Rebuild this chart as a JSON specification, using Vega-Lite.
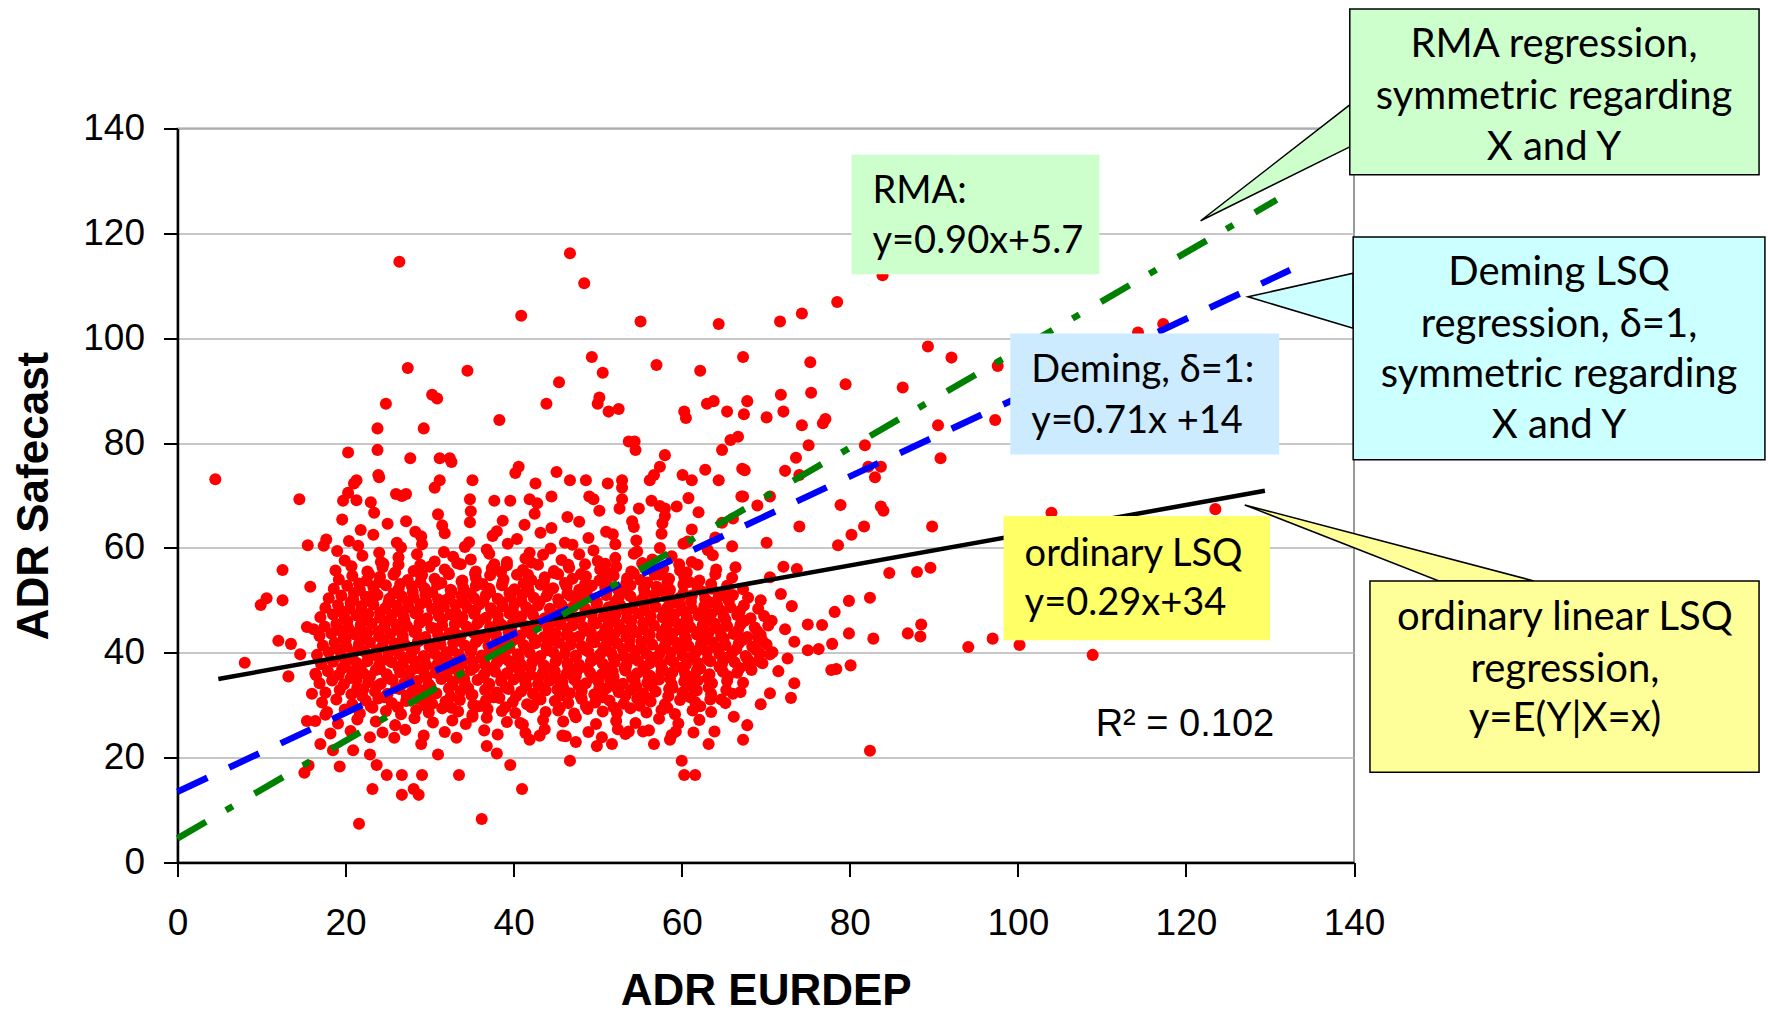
{
"$schema":"https://vega.github.io/schema/vega-lite/v6.json",
"width":1176.5,"height":734,
"autosize":{"type":"none"},
"padding":{"left":177.5,"top":128.5,"right":414,"bottom":150.5},
"background":"white",
"config":{
"view":{"stroke":"#9a9a9a","strokeWidth":2},
"axis":{"labelFont":"Liberation Sans","labelFontSize":37,"labelColor":"black","titleFont":"Liberation Sans","titleFontSize":44,"titleFontWeight":"bold","titleColor":"black","domainColor":"black","domainWidth":2.5,"tickColor":"black","tickWidth":2,"tickSize":14,"gridColor":"#b5b5b5","gridWidth":1.3,"labelFlush":false}
},
"encoding":{
"x":{"field":"x","type":"quantitative","scale":{"domain":[0,140],"nice":false,"zero":false},"axis":{"values":[0,20,40,60,80,100,120,140],"grid":false,"title":"ADR EURDEP","labelPadding":29,"titlePadding":28}},
"y":{"field":"y","type":"quantitative","scale":{"domain":[0,140],"nice":false,"zero":false},"axis":{"values":[0,20,40,60,80,100,120,140],"grid":true,"title":"ADR Safecast","labelPadding":19,"titlePadding":26}}
},
"layer":[
{"data":{"values":[
{"x":18.2,"y":24.6},{"x":20.6,"y":25.1},{"x":22.9,"y":23.9},{"x":24.4,"y":24.8},{"x":27.1,"y":25.3},{"x":29.3,"y":24.2},{"x":31.8,"y":24.9},{"x":33.2,"y":23.8},{"x":36.5,"y":25.2},{"x":38.1,"y":24.4},{"x":41.4,"y":24.7},{"x":43.7,"y":25.4},{"x":46.2,"y":24.1},{"x":48.9,"y":24.9},{"x":50.5,"y":23.9},{"x":53.3,"y":24.5},{"x":56.1,"y":25.2},{"x":58.8,"y":24.3},{"x":61.4,"y":24.8},
{"x":19.1,"y":26.5},{"x":21.4,"y":27.3},{"x":23.6,"y":26.9},{"x":25.9,"y":26.2},{"x":28.2,"y":27.5},{"x":30.4,"y":26.7},{"x":32.7,"y":27.1},{"x":34.3,"y":26.4},{"x":36.8,"y":27.6},{"x":39.2,"y":26.8},{"x":41.1,"y":26.3},{"x":43.5,"y":27.2},{"x":45.9,"y":26.9},{"x":47.4,"y":27.7},{"x":49.8,"y":26.4},{"x":52.2,"y":27.0},{"x":54.5,"y":26.6},{"x":57.3,"y":27.4},{"x":59.6,"y":26.5},{"x":62.1,"y":27.2},
{"x":17.8,"y":28.7},{"x":19.9,"y":29.2},{"x":21.7,"y":28.4},{"x":23.2,"y":29.5},{"x":24.8,"y":28.9},{"x":26.6,"y":28.3},{"x":28.4,"y":29.1},{"x":29.9,"y":28.6},{"x":31.5,"y":29.4},{"x":33.4,"y":28.8},{"x":35.1,"y":28.2},{"x":36.9,"y":29.3},{"x":38.6,"y":28.9},{"x":40.2,"y":28.5},{"x":42.1,"y":29.6},{"x":43.8,"y":28.7},{"x":45.3,"y":29.0},{"x":47.2,"y":28.4},{"x":48.8,"y":29.3},{"x":50.6,"y":28.8},{"x":52.3,"y":28.5},{"x":53.9,"y":29.4},{"x":55.8,"y":28.6},{"x":57.6,"y":29.1},{"x":59.2,"y":28.3},{"x":61.3,"y":29.0},{"x":63.5,"y":28.7},
{"x":17.2,"y":30.5},{"x":18.9,"y":31.1},{"x":20.8,"y":30.2},{"x":22.4,"y":30.9},{"x":23.9,"y":31.3},{"x":25.5,"y":30.4},{"x":27.2,"y":30.8},{"x":28.8,"y":31.2},{"x":30.3,"y":30.3},{"x":31.9,"y":30.7},{"x":33.6,"y":31.0},{"x":35.2,"y":30.1},{"x":36.7,"y":30.9},{"x":38.3,"y":31.4},{"x":39.9,"y":30.6},{"x":41.6,"y":30.2},{"x":43.2,"y":31.1},{"x":44.9,"y":30.8},{"x":46.5,"y":30.4},{"x":48.1,"y":31.2},{"x":49.7,"y":30.5},{"x":51.4,"y":30.9},{"x":53.1,"y":30.3},{"x":54.7,"y":31.3},{"x":56.3,"y":30.7},{"x":58.0,"y":30.2},{"x":59.8,"y":31.0},{"x":61.6,"y":30.6},{"x":63.4,"y":31.1},{"x":65.2,"y":30.4},
{"x":17.6,"y":32.4},{"x":19.3,"y":32.9},{"x":20.7,"y":32.1},{"x":22.1,"y":33.0},{"x":23.5,"y":32.6},{"x":25.0,"y":32.2},{"x":26.4,"y":33.1},{"x":27.9,"y":32.5},{"x":29.2,"y":32.8},{"x":30.8,"y":32.3},{"x":32.3,"y":33.2},{"x":33.7,"y":32.7},{"x":35.1,"y":32.0},{"x":36.6,"y":32.9},{"x":38.0,"y":32.4},{"x":39.4,"y":33.1},{"x":40.9,"y":32.6},{"x":42.3,"y":32.2},{"x":43.8,"y":32.8},{"x":45.2,"y":33.0},{"x":46.7,"y":32.3},{"x":48.1,"y":32.7},{"x":49.6,"y":32.1},{"x":51.0,"y":33.2},{"x":52.5,"y":32.5},{"x":53.9,"y":32.9},{"x":55.4,"y":32.3},{"x":56.9,"y":32.6},{"x":58.5,"y":33.1},{"x":60.1,"y":32.4},{"x":61.8,"y":32.8},{"x":63.5,"y":32.2},{"x":65.3,"y":32.9},{"x":67.0,"y":32.5},
{"x":16.9,"y":34.2},{"x":18.4,"y":34.7},{"x":19.8,"y":34.0},{"x":21.3,"y":34.9},{"x":22.7,"y":34.4},{"x":24.2,"y":34.1},{"x":25.6,"y":34.8},{"x":27.0,"y":34.3},{"x":28.5,"y":34.6},{"x":29.9,"y":34.0},{"x":31.4,"y":35.0},{"x":32.8,"y":34.5},{"x":34.2,"y":34.2},{"x":35.7,"y":34.8},{"x":37.1,"y":34.1},{"x":38.5,"y":34.6},{"x":40.0,"y":34.9},{"x":41.4,"y":34.3},{"x":42.9,"y":34.0},{"x":44.3,"y":34.7},{"x":45.8,"y":34.4},{"x":47.2,"y":34.9},{"x":48.6,"y":34.2},{"x":50.1,"y":34.5},{"x":51.5,"y":34.8},{"x":53.0,"y":34.1},{"x":54.4,"y":34.6},{"x":55.9,"y":34.3},{"x":57.3,"y":34.9},{"x":58.8,"y":34.0},{"x":60.3,"y":34.5},{"x":61.9,"y":34.7},{"x":63.6,"y":34.2},{"x":65.4,"y":34.6},{"x":67.3,"y":34.3},
{"x":16.4,"y":36.0},{"x":17.9,"y":36.5},{"x":19.2,"y":35.8},{"x":20.8,"y":36.4},{"x":22.1,"y":36.1},{"x":23.6,"y":36.7},{"x":24.9,"y":35.9},{"x":26.5,"y":36.3},{"x":27.8,"y":36.6},{"x":29.4,"y":35.8},{"x":30.7,"y":36.2},{"x":32.1,"y":36.5},{"x":33.6,"y":36.0},{"x":34.9,"y":36.7},{"x":36.5,"y":35.9},{"x":37.8,"y":36.4},{"x":39.2,"y":36.1},{"x":40.7,"y":36.6},{"x":42.0,"y":35.8},{"x":43.5,"y":36.3},{"x":44.9,"y":36.5},{"x":46.3,"y":36.0},{"x":47.6,"y":36.7},{"x":49.1,"y":36.2},{"x":50.5,"y":35.9},{"x":51.8,"y":36.4},{"x":53.3,"y":36.6},{"x":54.7,"y":36.1},{"x":56.0,"y":35.8},{"x":57.6,"y":36.5},{"x":58.9,"y":36.3},{"x":60.4,"y":36.0},{"x":61.8,"y":36.6},{"x":63.3,"y":35.9},{"x":64.9,"y":36.4},{"x":66.6,"y":36.2},{"x":68.3,"y":36.7},
{"x":17.1,"y":37.8},{"x":18.5,"y":38.3},{"x":19.9,"y":37.6},{"x":21.3,"y":38.1},{"x":22.6,"y":38.4},{"x":24.0,"y":37.7},{"x":25.5,"y":38.2},{"x":26.8,"y":37.9},{"x":28.2,"y":38.5},{"x":29.6,"y":37.6},{"x":31.0,"y":38.0},{"x":32.4,"y":38.3},{"x":33.8,"y":37.8},{"x":35.1,"y":38.4},{"x":36.6,"y":37.7},{"x":38.0,"y":38.1},{"x":39.4,"y":38.5},{"x":40.8,"y":37.9},{"x":42.2,"y":38.2},{"x":43.6,"y":37.6},{"x":45.0,"y":38.3},{"x":46.4,"y":38.0},{"x":47.8,"y":37.7},{"x":49.2,"y":38.4},{"x":50.6,"y":37.9},{"x":52.0,"y":38.2},{"x":53.4,"y":37.6},{"x":54.8,"y":38.5},{"x":56.2,"y":38.0},{"x":57.5,"y":37.8},{"x":59.0,"y":38.3},{"x":60.5,"y":37.7},{"x":61.9,"y":38.1},{"x":63.4,"y":38.4},{"x":64.8,"y":37.9},{"x":66.3,"y":38.2},{"x":67.9,"y":37.6},{"x":69.6,"y":38.0},
{"x":16.6,"y":39.6},{"x":18.0,"y":40.1},{"x":19.5,"y":39.4},{"x":20.9,"y":39.9},{"x":22.3,"y":40.2},{"x":23.7,"y":39.5},{"x":25.1,"y":40.0},{"x":26.4,"y":39.7},{"x":27.9,"y":40.3},{"x":29.3,"y":39.4},{"x":30.6,"y":39.8},{"x":32.0,"y":40.1},{"x":33.5,"y":39.6},{"x":34.9,"y":40.2},{"x":36.2,"y":39.5},{"x":37.7,"y":39.9},{"x":39.0,"y":40.3},{"x":40.5,"y":39.7},{"x":41.9,"y":40.0},{"x":43.2,"y":39.4},{"x":44.7,"y":40.1},{"x":46.1,"y":39.8},{"x":47.4,"y":39.5},{"x":48.9,"y":40.2},{"x":50.3,"y":39.7},{"x":51.6,"y":40.0},{"x":53.1,"y":39.4},{"x":54.5,"y":40.3},{"x":55.8,"y":39.8},{"x":57.3,"y":39.6},{"x":58.7,"y":40.1},{"x":60.1,"y":39.5},{"x":61.6,"y":39.9},{"x":63.0,"y":40.2},{"x":64.5,"y":39.7},{"x":66.0,"y":40.0},{"x":67.6,"y":39.4},{"x":69.3,"y":39.8},{"x":70.8,"y":40.1},
{"x":17.3,"y":41.4},{"x":18.7,"y":41.9},{"x":20.1,"y":41.2},{"x":21.6,"y":41.7},{"x":22.9,"y":42.0},{"x":24.4,"y":41.3},{"x":25.8,"y":41.8},{"x":27.1,"y":41.5},{"x":28.6,"y":42.1},{"x":30.0,"y":41.2},{"x":31.3,"y":41.6},{"x":32.8,"y":41.9},{"x":34.2,"y":41.4},{"x":35.5,"y":42.0},{"x":37.0,"y":41.3},{"x":38.4,"y":41.7},{"x":39.7,"y":42.1},{"x":41.2,"y":41.5},{"x":42.6,"y":41.8},{"x":43.9,"y":41.2},{"x":45.4,"y":41.9},{"x":46.8,"y":41.6},{"x":48.1,"y":41.3},{"x":49.6,"y":42.0},{"x":51.0,"y":41.5},{"x":52.3,"y":41.8},{"x":53.8,"y":41.2},{"x":55.2,"y":42.1},{"x":56.5,"y":41.6},{"x":58.0,"y":41.4},{"x":59.4,"y":41.9},{"x":60.8,"y":41.3},{"x":62.3,"y":41.7},{"x":63.7,"y":42.0},{"x":65.2,"y":41.5},{"x":66.8,"y":41.8},{"x":68.4,"y":41.2},{"x":70.1,"y":41.6},
{"x":16.9,"y":43.2},{"x":18.3,"y":43.7},{"x":19.8,"y":43.0},{"x":21.1,"y":43.5},{"x":22.6,"y":43.8},{"x":24.0,"y":43.1},{"x":25.3,"y":43.6},{"x":26.8,"y":43.3},{"x":28.2,"y":43.9},{"x":29.5,"y":43.0},{"x":31.0,"y":43.4},{"x":32.4,"y":43.7},{"x":33.7,"y":43.2},{"x":35.2,"y":43.8},{"x":36.6,"y":43.1},{"x":37.9,"y":43.5},{"x":39.4,"y":43.9},{"x":40.8,"y":43.3},{"x":42.1,"y":43.6},{"x":43.6,"y":43.0},{"x":45.0,"y":43.7},{"x":46.3,"y":43.4},{"x":47.8,"y":43.1},{"x":49.2,"y":43.8},{"x":50.5,"y":43.3},{"x":52.0,"y":43.6},{"x":53.4,"y":43.0},{"x":54.7,"y":43.9},{"x":56.2,"y":43.4},{"x":57.6,"y":43.2},{"x":58.9,"y":43.7},{"x":60.4,"y":43.1},{"x":61.8,"y":43.5},{"x":63.2,"y":43.8},{"x":64.7,"y":43.3},{"x":66.2,"y":43.6},{"x":67.8,"y":43.0},{"x":69.4,"y":43.4},
{"x":17.5,"y":45.0},{"x":18.9,"y":45.5},{"x":20.3,"y":44.8},{"x":21.8,"y":45.3},{"x":23.1,"y":45.6},{"x":24.6,"y":44.9},{"x":26.0,"y":45.4},{"x":27.3,"y":45.1},{"x":28.8,"y":45.7},{"x":30.2,"y":44.8},{"x":31.5,"y":45.2},{"x":33.0,"y":45.5},{"x":34.4,"y":45.0},{"x":35.7,"y":45.6},{"x":37.2,"y":44.9},{"x":38.6,"y":45.3},{"x":39.9,"y":45.7},{"x":41.4,"y":45.1},{"x":42.8,"y":45.4},{"x":44.1,"y":44.8},{"x":45.6,"y":45.5},{"x":47.0,"y":45.2},{"x":48.3,"y":44.9},{"x":49.8,"y":45.6},{"x":51.2,"y":45.1},{"x":52.5,"y":45.4},{"x":54.0,"y":44.8},{"x":55.4,"y":45.7},{"x":56.7,"y":45.2},{"x":58.2,"y":45.0},{"x":59.6,"y":45.5},{"x":61.0,"y":44.9},{"x":62.5,"y":45.3},{"x":63.9,"y":45.6},{"x":65.4,"y":45.1},{"x":67.0,"y":45.4},{"x":68.7,"y":44.8},{"x":70.3,"y":45.2},
{"x":17.0,"y":46.8},{"x":18.5,"y":47.3},{"x":19.9,"y":46.6},{"x":21.3,"y":47.1},{"x":22.7,"y":47.4},{"x":24.1,"y":46.7},{"x":25.5,"y":47.2},{"x":26.9,"y":46.9},{"x":28.3,"y":47.5},{"x":29.7,"y":46.6},{"x":31.1,"y":47.0},{"x":32.5,"y":47.3},{"x":33.9,"y":46.8},{"x":35.3,"y":47.4},{"x":36.7,"y":46.7},{"x":38.1,"y":47.1},{"x":39.5,"y":47.5},{"x":40.9,"y":46.9},{"x":42.3,"y":47.2},{"x":43.7,"y":46.6},{"x":45.1,"y":47.3},{"x":46.5,"y":47.0},{"x":47.9,"y":46.7},{"x":49.3,"y":47.4},{"x":50.7,"y":46.9},{"x":52.1,"y":47.2},{"x":53.5,"y":46.6},{"x":54.9,"y":47.5},{"x":56.3,"y":47.0},{"x":57.7,"y":46.8},{"x":59.1,"y":47.3},{"x":60.6,"y":46.7},{"x":62.0,"y":47.1},{"x":63.5,"y":47.4},{"x":65.0,"y":46.9},{"x":66.6,"y":47.2},{"x":68.2,"y":46.6},{"x":69.8,"y":47.0},
{"x":17.6,"y":48.6},{"x":19.1,"y":49.1},{"x":20.5,"y":48.4},{"x":21.9,"y":48.9},{"x":23.3,"y":49.2},{"x":24.7,"y":48.5},{"x":26.1,"y":49.0},{"x":27.5,"y":48.7},{"x":28.9,"y":49.3},{"x":30.3,"y":48.4},{"x":31.7,"y":48.8},{"x":33.1,"y":49.1},{"x":34.5,"y":48.6},{"x":35.9,"y":49.2},{"x":37.3,"y":48.5},{"x":38.7,"y":48.9},{"x":40.1,"y":49.3},{"x":41.5,"y":48.7},{"x":42.9,"y":49.0},{"x":44.3,"y":48.4},{"x":45.7,"y":49.1},{"x":47.1,"y":48.8},{"x":48.5,"y":48.5},{"x":49.9,"y":49.2},{"x":51.3,"y":48.7},{"x":52.7,"y":49.0},{"x":54.1,"y":48.4},{"x":55.5,"y":49.3},{"x":56.9,"y":48.8},{"x":58.3,"y":48.6},{"x":59.8,"y":49.1},{"x":61.2,"y":48.5},{"x":62.7,"y":48.9},{"x":64.2,"y":49.2},{"x":65.8,"y":48.7},{"x":67.4,"y":49.0},{"x":69.1,"y":48.4},
{"x":18.0,"y":50.4},{"x":19.5,"y":50.9},{"x":20.9,"y":50.2},{"x":22.4,"y":50.7},{"x":23.8,"y":51.0},{"x":25.2,"y":50.3},{"x":26.7,"y":50.8},{"x":28.1,"y":50.5},{"x":29.5,"y":51.1},{"x":31.0,"y":50.2},{"x":32.4,"y":50.6},{"x":33.8,"y":50.9},{"x":35.3,"y":50.4},{"x":36.7,"y":51.0},{"x":38.1,"y":50.3},{"x":39.6,"y":50.7},{"x":41.0,"y":51.1},{"x":42.4,"y":50.5},{"x":43.9,"y":50.8},{"x":45.3,"y":50.2},{"x":46.7,"y":50.9},{"x":48.2,"y":50.6},{"x":49.6,"y":50.3},{"x":51.0,"y":51.0},{"x":52.5,"y":50.5},{"x":53.9,"y":50.8},{"x":55.3,"y":50.2},{"x":56.8,"y":51.1},{"x":58.2,"y":50.6},{"x":59.7,"y":50.4},{"x":61.2,"y":50.9},{"x":62.8,"y":50.3},{"x":64.4,"y":50.7},{"x":66.1,"y":51.0},{"x":67.9,"y":50.5},
{"x":18.6,"y":52.2},{"x":20.2,"y":52.8},{"x":21.7,"y":52.0},{"x":23.3,"y":52.6},{"x":24.8,"y":52.9},{"x":26.3,"y":52.1},{"x":27.9,"y":52.7},{"x":29.4,"y":52.3},{"x":30.9,"y":53.0},{"x":32.5,"y":52.0},{"x":34.0,"y":52.4},{"x":35.5,"y":52.8},{"x":37.1,"y":52.2},{"x":38.6,"y":52.9},{"x":40.1,"y":52.1},{"x":41.7,"y":52.5},{"x":43.2,"y":53.0},{"x":44.7,"y":52.3},{"x":46.3,"y":52.7},{"x":47.8,"y":52.0},{"x":49.3,"y":52.8},{"x":50.9,"y":52.4},{"x":52.4,"y":52.1},{"x":53.9,"y":52.9},{"x":55.5,"y":52.3},{"x":57.0,"y":52.6},{"x":58.6,"y":52.0},{"x":60.2,"y":53.0},{"x":61.9,"y":52.4},{"x":63.6,"y":52.2},{"x":65.4,"y":52.8},{"x":67.3,"y":52.1},
{"x":19.2,"y":54.0},{"x":20.8,"y":54.7},{"x":22.5,"y":53.8},{"x":24.1,"y":54.5},{"x":25.7,"y":54.9},{"x":27.4,"y":53.9},{"x":29.0,"y":54.6},{"x":30.6,"y":54.1},{"x":32.3,"y":55.0},{"x":33.9,"y":53.8},{"x":35.5,"y":54.3},{"x":37.2,"y":54.8},{"x":38.8,"y":54.0},{"x":40.4,"y":54.9},{"x":42.1,"y":53.9},{"x":43.7,"y":54.4},{"x":45.3,"y":55.0},{"x":47.0,"y":54.1},{"x":48.6,"y":54.6},{"x":50.2,"y":53.8},{"x":51.9,"y":54.7},{"x":53.5,"y":54.2},{"x":55.1,"y":53.9},{"x":56.8,"y":54.9},{"x":58.5,"y":54.1},{"x":60.3,"y":54.5},{"x":62.1,"y":53.8},{"x":64.0,"y":55.0},{"x":66.0,"y":54.3},
{"x":18.8,"y":55.7},{"x":20.7,"y":56.5},{"x":22.6,"y":55.5},{"x":24.4,"y":56.3},{"x":26.3,"y":56.8},{"x":28.1,"y":55.6},{"x":30.0,"y":56.4},{"x":31.8,"y":55.9},{"x":33.7,"y":56.9},{"x":35.5,"y":55.5},{"x":37.4,"y":56.1},{"x":39.2,"y":56.7},{"x":41.1,"y":55.8},{"x":42.9,"y":56.8},{"x":44.8,"y":55.6},{"x":46.6,"y":56.2},{"x":48.5,"y":56.9},{"x":50.3,"y":55.9},{"x":52.2,"y":56.4},{"x":54.0,"y":55.5},{"x":55.9,"y":56.6},{"x":57.8,"y":56.0},{"x":59.8,"y":55.7},{"x":61.9,"y":56.8},{"x":64.1,"y":55.9},{"x":66.4,"y":56.3},
{"x":19.9,"y":57.6},{"x":22.0,"y":58.5},{"x":24.2,"y":57.3},{"x":26.3,"y":58.2},{"x":28.5,"y":58.8},{"x":30.6,"y":57.4},{"x":32.8,"y":58.3},{"x":34.9,"y":57.8},{"x":37.1,"y":58.9},{"x":39.2,"y":57.3},{"x":41.4,"y":58.0},{"x":43.5,"y":58.7},{"x":45.7,"y":57.7},{"x":47.8,"y":58.8},{"x":50.0,"y":57.5},{"x":52.1,"y":58.1},{"x":54.3,"y":58.9},{"x":56.5,"y":57.8},{"x":58.8,"y":58.4},{"x":61.2,"y":57.3},{"x":63.7,"y":58.6},
{"x":19.0,"y":59.4},{"x":21.5,"y":60.4},{"x":24.0,"y":59.1},{"x":26.6,"y":60.1},{"x":29.1,"y":60.7},{"x":31.7,"y":59.2},{"x":34.2,"y":60.2},{"x":36.8,"y":59.7},{"x":39.3,"y":60.8},{"x":41.9,"y":59.1},{"x":44.4,"y":59.9},{"x":47.0,"y":60.6},{"x":49.5,"y":59.5},{"x":52.1,"y":60.7},{"x":54.7,"y":59.3},{"x":57.4,"y":60.0},{"x":60.2,"y":60.8},{"x":63.1,"y":59.6},{"x":66.0,"y":60.3},
{"x":20.4,"y":61.3},{"x":23.3,"y":62.5},{"x":26.1,"y":61.0},{"x":29.0,"y":62.2},{"x":31.8,"y":62.8},{"x":34.7,"y":61.1},{"x":37.5,"y":62.3},{"x":40.4,"y":61.7},{"x":43.2,"y":62.9},{"x":46.1,"y":61.0},{"x":48.9,"y":61.9},{"x":51.8,"y":62.6},{"x":54.6,"y":61.4},{"x":57.6,"y":62.7},{"x":60.7,"y":61.2},{"x":64.0,"y":62.0},
{"x":21.8,"y":63.4},{"x":25.0,"y":64.6},{"x":28.3,"y":63.1},{"x":31.5,"y":64.3},{"x":34.8,"y":64.9},{"x":38.0,"y":63.2},{"x":41.3,"y":64.4},{"x":44.5,"y":63.8},{"x":47.8,"y":65.0},{"x":51.0,"y":63.1},{"x":54.3,"y":64.0},{"x":57.7,"y":64.7},{"x":61.2,"y":63.5},{"x":64.8,"y":64.8},
{"x":19.6,"y":65.4},{"x":23.4,"y":66.7},{"x":27.2,"y":65.1},{"x":31.0,"y":66.4},{"x":34.9,"y":67.0},{"x":38.7,"y":65.2},{"x":42.5,"y":66.5},{"x":46.4,"y":65.9},{"x":50.2,"y":67.1},{"x":54.1,"y":65.1},{"x":58.0,"y":66.1},{"x":62.0,"y":66.8},{"x":66.1,"y":65.6},
{"x":23.0,"y":29.8},{"x":26.2,"y":29.6},{"x":29.5,"y":29.9},{"x":32.6,"y":29.5},{"x":35.9,"y":29.8},{"x":39.0,"y":29.6},{"x":42.3,"y":29.9},{"x":45.5,"y":29.5},{"x":48.6,"y":29.8},{"x":51.9,"y":29.6},{"x":55.0,"y":29.9},{"x":58.3,"y":29.5},
{"x":22.0,"y":31.7},{"x":24.6,"y":31.5},{"x":27.3,"y":31.8},{"x":29.8,"y":31.4},{"x":32.5,"y":31.6},{"x":35.0,"y":31.9},{"x":37.6,"y":31.5},{"x":40.3,"y":31.7},{"x":42.8,"y":31.4},{"x":45.5,"y":31.8},{"x":48.0,"y":31.6},{"x":50.6,"y":31.5},{"x":53.3,"y":31.8},{"x":55.8,"y":31.4},{"x":58.4,"y":31.7},{"x":61.0,"y":31.5},
{"x":21.4,"y":33.4},{"x":23.8,"y":33.7},{"x":26.0,"y":33.3},{"x":28.3,"y":33.6},{"x":30.1,"y":33.5},{"x":32.7,"y":33.8},{"x":34.6,"y":33.3},{"x":37.0,"y":33.6},{"x":39.1,"y":33.4},{"x":41.5,"y":33.7},{"x":43.3,"y":33.5},{"x":45.9,"y":33.3},{"x":47.7,"y":33.8},{"x":50.2,"y":33.4},{"x":52.0,"y":33.6},{"x":54.6,"y":33.5},{"x":56.4,"y":33.7},{"x":58.9,"y":33.3},{"x":61.1,"y":33.6},{"x":63.2,"y":33.4},
{"x":20.6,"y":35.2},{"x":22.9,"y":35.5},{"x":25.2,"y":35.1},{"x":27.5,"y":35.4},{"x":29.6,"y":35.3},{"x":32.0,"y":35.6},{"x":34.1,"y":35.1},{"x":36.3,"y":35.4},{"x":38.6,"y":35.2},{"x":40.8,"y":35.5},{"x":43.0,"y":35.3},{"x":45.2,"y":35.1},{"x":47.4,"y":35.6},{"x":49.7,"y":35.2},{"x":51.9,"y":35.4},{"x":54.1,"y":35.3},{"x":56.3,"y":35.5},{"x":58.6,"y":35.1},{"x":60.9,"y":35.4},{"x":63.1,"y":35.2},{"x":65.5,"y":35.5},
{"x":19.6,"y":37.0},{"x":21.8,"y":37.3},{"x":24.1,"y":36.9},{"x":26.3,"y":37.2},{"x":28.6,"y":37.1},{"x":30.8,"y":37.4},{"x":33.1,"y":36.9},{"x":35.3,"y":37.2},{"x":37.5,"y":37.0},{"x":39.8,"y":37.3},{"x":42.0,"y":37.1},{"x":44.3,"y":36.9},{"x":46.5,"y":37.4},{"x":48.8,"y":37.0},{"x":51.0,"y":37.2},{"x":53.2,"y":37.1},{"x":55.5,"y":37.3},{"x":57.7,"y":36.9},{"x":60.0,"y":37.2},{"x":62.2,"y":37.0},{"x":64.5,"y":37.3},{"x":66.9,"y":37.1},
{"x":20.4,"y":38.8},{"x":22.7,"y":39.1},{"x":24.9,"y":38.7},{"x":27.2,"y":39.0},{"x":29.4,"y":38.9},{"x":31.7,"y":39.2},{"x":33.9,"y":38.7},{"x":36.2,"y":39.0},{"x":38.4,"y":38.8},{"x":40.6,"y":39.1},{"x":42.9,"y":38.9},{"x":45.1,"y":38.7},{"x":47.4,"y":39.2},{"x":49.6,"y":38.8},{"x":51.9,"y":39.0},{"x":54.1,"y":38.9},{"x":56.4,"y":39.1},{"x":58.6,"y":38.7},{"x":60.9,"y":39.0},{"x":63.1,"y":38.8},{"x":65.4,"y":39.1},{"x":67.8,"y":38.9},
{"x":19.2,"y":40.6},{"x":21.5,"y":40.9},{"x":23.7,"y":40.5},{"x":26.0,"y":40.8},{"x":28.2,"y":40.7},{"x":30.5,"y":41.0},{"x":32.7,"y":40.5},{"x":35.0,"y":40.8},{"x":37.2,"y":40.6},{"x":39.5,"y":40.9},{"x":41.7,"y":40.7},{"x":44.0,"y":40.5},{"x":46.2,"y":41.0},{"x":48.5,"y":40.6},{"x":50.7,"y":40.8},{"x":53.0,"y":40.7},{"x":55.2,"y":40.9},{"x":57.5,"y":40.5},{"x":59.7,"y":40.8},{"x":62.0,"y":40.6},{"x":64.2,"y":40.9},{"x":66.5,"y":40.7},{"x":68.9,"y":40.5},
{"x":20.0,"y":42.4},{"x":22.3,"y":42.7},{"x":24.5,"y":42.3},{"x":26.8,"y":42.6},{"x":29.0,"y":42.5},{"x":31.3,"y":42.8},{"x":33.5,"y":42.3},{"x":35.8,"y":42.6},{"x":38.0,"y":42.4},{"x":40.3,"y":42.7},{"x":42.5,"y":42.5},{"x":44.8,"y":42.3},{"x":47.0,"y":42.8},{"x":49.3,"y":42.4},{"x":51.5,"y":42.6},{"x":53.8,"y":42.5},{"x":56.0,"y":42.7},{"x":58.3,"y":42.3},{"x":60.5,"y":42.6},{"x":62.8,"y":42.4},{"x":65.0,"y":42.7},{"x":67.3,"y":42.5},{"x":69.6,"y":42.3},
{"x":19.4,"y":44.2},{"x":21.7,"y":44.5},{"x":23.9,"y":44.1},{"x":26.2,"y":44.4},{"x":28.4,"y":44.3},{"x":30.7,"y":44.6},{"x":32.9,"y":44.1},{"x":35.2,"y":44.4},{"x":37.4,"y":44.2},{"x":39.7,"y":44.5},{"x":41.9,"y":44.3},{"x":44.2,"y":44.1},{"x":46.4,"y":44.6},{"x":48.7,"y":44.2},{"x":50.9,"y":44.4},{"x":53.2,"y":44.3},{"x":55.4,"y":44.5},{"x":57.7,"y":44.1},{"x":59.9,"y":44.4},{"x":62.2,"y":44.2},{"x":64.4,"y":44.5},{"x":66.7,"y":44.3},{"x":69.0,"y":44.1},
{"x":20.2,"y":46.0},{"x":22.5,"y":46.3},{"x":24.7,"y":45.9},{"x":27.0,"y":46.2},{"x":29.2,"y":46.1},{"x":31.5,"y":46.4},{"x":33.7,"y":45.9},{"x":36.0,"y":46.2},{"x":38.2,"y":46.0},{"x":40.5,"y":46.3},{"x":42.7,"y":46.1},{"x":45.0,"y":45.9},{"x":47.2,"y":46.4},{"x":49.5,"y":46.0},{"x":51.7,"y":46.2},{"x":54.0,"y":46.1},{"x":56.2,"y":46.3},{"x":58.5,"y":45.9},{"x":60.7,"y":46.2},{"x":63.0,"y":46.0},{"x":65.2,"y":46.3},{"x":67.5,"y":46.1},
{"x":19.6,"y":47.8},{"x":21.9,"y":48.1},{"x":24.1,"y":47.7},{"x":26.4,"y":48.0},{"x":28.6,"y":47.9},{"x":30.9,"y":48.2},{"x":33.1,"y":47.7},{"x":35.4,"y":48.0},{"x":37.6,"y":47.8},{"x":39.9,"y":48.1},{"x":42.1,"y":47.9},{"x":44.4,"y":47.7},{"x":46.6,"y":48.2},{"x":48.9,"y":47.8},{"x":51.1,"y":48.0},{"x":53.4,"y":47.9},{"x":55.6,"y":48.1},{"x":57.9,"y":47.7},{"x":60.1,"y":48.0},{"x":62.4,"y":47.8},{"x":64.6,"y":48.1},{"x":66.9,"y":47.9},
{"x":20.6,"y":49.6},{"x":22.9,"y":49.9},{"x":25.1,"y":49.5},{"x":27.4,"y":49.8},{"x":29.6,"y":49.7},{"x":31.9,"y":50.0},{"x":34.1,"y":49.5},{"x":36.4,"y":49.8},{"x":38.6,"y":49.6},{"x":40.9,"y":49.9},{"x":43.1,"y":49.7},{"x":45.4,"y":49.5},{"x":47.6,"y":50.0},{"x":49.9,"y":49.6},{"x":52.1,"y":49.8},{"x":54.4,"y":49.7},{"x":56.6,"y":49.9},{"x":58.9,"y":49.5},{"x":61.1,"y":49.8},{"x":63.4,"y":49.6},{"x":65.6,"y":49.9},
{"x":21.0,"y":51.4},{"x":23.4,"y":51.7},{"x":25.7,"y":51.3},{"x":28.0,"y":51.6},{"x":30.3,"y":51.5},{"x":32.6,"y":51.8},{"x":34.9,"y":51.3},{"x":37.2,"y":51.6},{"x":39.5,"y":51.4},{"x":41.8,"y":51.7},{"x":44.1,"y":51.5},{"x":46.4,"y":51.3},{"x":48.7,"y":51.8},{"x":51.0,"y":51.4},{"x":53.3,"y":51.6},{"x":55.6,"y":51.5},{"x":57.9,"y":51.7},{"x":60.2,"y":51.3},{"x":62.6,"y":51.6},{"x":65.0,"y":51.4},
{"x":21.6,"y":53.2},{"x":24.0,"y":53.5},{"x":26.5,"y":53.1},{"x":28.9,"y":53.4},{"x":31.4,"y":53.3},{"x":33.8,"y":53.6},{"x":36.3,"y":53.1},{"x":38.7,"y":53.4},{"x":41.2,"y":53.2},{"x":43.6,"y":53.5},{"x":46.1,"y":53.3},{"x":48.5,"y":53.1},{"x":51.0,"y":53.6},{"x":53.4,"y":53.2},{"x":55.9,"y":53.4},{"x":58.3,"y":53.3},{"x":60.9,"y":53.5},{"x":63.5,"y":53.1},
{"x":22.8,"y":55.0},{"x":25.9,"y":55.3},{"x":29.1,"y":54.9},{"x":32.2,"y":55.2},{"x":35.4,"y":55.1},{"x":38.5,"y":55.4},{"x":41.7,"y":54.9},{"x":44.8,"y":55.2},{"x":48.0,"y":55.0},{"x":51.1,"y":55.3},{"x":54.3,"y":55.1},{"x":57.4,"y":54.9},{"x":60.6,"y":55.3},
{"x":24.5,"y":57.0},{"x":28.9,"y":56.8},{"x":33.3,"y":57.1},{"x":37.7,"y":56.9},{"x":42.1,"y":57.2},{"x":46.5,"y":56.8},{"x":50.9,"y":57.0},{"x":55.3,"y":57.1},{"x":59.7,"y":56.9},
{"x":23.9,"y":73.9},{"x":24.0,"y":73.5},{"x":40.6,"y":75.5},{"x":40.2,"y":74.3},{"x":45.1,"y":74.5},{"x":42.6,"y":72.3},{"x":46.7,"y":72.9},{"x":48.6,"y":72.9},{"x":51.2,"y":72.3},{"x":52.9,"y":72.9},{"x":52.9,"y":71.5},{"x":56.2,"y":72.9},{"x":56.7,"y":73.9},{"x":60.1,"y":73.9},{"x":61.2,"y":72.9},{"x":62.8,"y":74.9},{"x":64.4,"y":72.9},{"x":67.2,"y":75.1},{"x":21.3,"y":72.9},{"x":21.0,"y":72.3},{"x":27.2,"y":70.3},{"x":26.7,"y":69.9},{"x":26.0,"y":70.3},{"x":31.2,"y":72.9},{"x":35.1,"y":72.9},{"x":30.6,"y":71.5},{"x":14.5,"y":69.3},{"x":19.7,"y":69.0},{"x":20.3,"y":70.5},{"x":21.3,"y":69.1},{"x":23.0,"y":68.7},{"x":34.8,"y":69.3},{"x":37.7,"y":69.0},{"x":39.6,"y":69.0},{"x":41.9,"y":69.3},{"x":42.8,"y":68.5},{"x":44.5,"y":69.8},{"x":49.0,"y":69.8},{"x":49.5,"y":69.3},{"x":52.9,"y":69.3},{"x":52.6,"y":67.5},{"x":54.9,"y":67.5},{"x":56.4,"y":69.0},{"x":57.4,"y":68.0},{"x":58.0,"y":67.5},{"x":59.4,"y":67.9},{"x":60.8,"y":69.5},{"x":67.1,"y":69.8},
{"x":4.5,"y":73.1},{"x":26.4,"y":114.6},{"x":46.7,"y":116.2},{"x":48.4,"y":110.5},{"x":40.9,"y":104.3},{"x":55.1,"y":103.2},{"x":64.4,"y":102.7},{"x":67.3,"y":96.4},{"x":49.3,"y":96.4},{"x":57.0,"y":94.9},{"x":50.6,"y":93.4},{"x":62.2,"y":93.8},{"x":27.4,"y":94.3},{"x":34.5,"y":93.8},{"x":45.4,"y":91.6},{"x":30.3,"y":89.2},{"x":30.9,"y":88.5},{"x":24.8,"y":87.5},{"x":43.9,"y":87.5},{"x":50.2,"y":88.7},{"x":50.0,"y":87.5},{"x":51.3,"y":86.0},{"x":52.5,"y":86.5},{"x":38.3,"y":84.4},{"x":60.3,"y":86.0},{"x":60.5,"y":84.8},{"x":63.0,"y":87.5},{"x":63.8,"y":88.0},{"x":65.4,"y":86.0},{"x":67.4,"y":85.5},{"x":23.8,"y":82.8},{"x":29.3,"y":82.8},{"x":53.7,"y":80.3},{"x":54.4,"y":80.3},{"x":54.5,"y":78.7},{"x":20.3,"y":78.2},{"x":23.8,"y":78.7},{"x":27.7,"y":77.1},{"x":31.2,"y":77.1},{"x":32.4,"y":77.1},{"x":32.6,"y":76.4},{"x":58.0,"y":77.7},{"x":57.4,"y":75.5},{"x":64.8,"y":78.7},{"x":65.8,"y":80.6},{"x":66.7,"y":81.2},
{"x":83.9,"y":112.0},{"x":78.5,"y":106.9},{"x":74.3,"y":104.7},{"x":71.7,"y":103.2},{"x":89.3,"y":98.4},{"x":92.1,"y":96.3},{"x":97.6,"y":94.7},{"x":114.3,"y":101.1},{"x":117.3,"y":102.7},{"x":75.3,"y":95.4},{"x":79.5,"y":91.2},{"x":86.3,"y":90.6},{"x":71.8,"y":89.2},{"x":75.4,"y":89.6},{"x":67.8,"y":88.0},{"x":70.1,"y":84.9},{"x":72.1,"y":86.0},{"x":74.3,"y":83.4},{"x":77.1,"y":84.6},{"x":76.8,"y":83.8},{"x":90.5,"y":83.4},{"x":97.3,"y":84.4},{"x":81.8,"y":79.6},{"x":75.1,"y":79.6},{"x":73.6,"y":77.2},{"x":67.5,"y":74.8},{"x":72.3,"y":74.7},{"x":74.0,"y":73.9},{"x":82.2,"y":75.5},{"x":83.7,"y":75.5},{"x":83.0,"y":73.5},{"x":90.8,"y":77.1},{"x":78.9,"y":68.2},{"x":83.7,"y":67.9},{"x":84.0,"y":67.1},{"x":89.8,"y":64.1},{"x":81.7,"y":64.1},{"x":80.2,"y":62.5},{"x":78.6,"y":60.5},{"x":74.0,"y":64.1},{"x":70.1,"y":61.0},{"x":67.3,"y":69.8},{"x":69.0,"y":68.1},{"x":70.5,"y":69.8},{"x":104.0,"y":66.7},{"x":123.5,"y":67.4},{"x":84.7,"y":55.2},{"x":88.0,"y":55.4},{"x":89.6,"y":56.2},{"x":82.4,"y":50.5},{"x":79.9,"y":49.9},{"x":78.2,"y":47.8},{"x":76.7,"y":45.3},{"x":75.0,"y":45.4},{"x":88.5,"y":45.4},{"x":86.9,"y":43.7},{"x":88.4,"y":43.1},{"x":82.8,"y":42.7},{"x":79.9,"y":43.7},{"x":77.9,"y":41.7},{"x":76.3,"y":40.7},{"x":75.0,"y":40.5},{"x":94.1,"y":41.1},{"x":97.0,"y":42.7},{"x":100.2,"y":41.5},{"x":108.9,"y":39.6},{"x":80.1,"y":37.6},{"x":77.8,"y":36.7},{"x":78.4,"y":36.9},{"x":73.0,"y":31.4},{"x":70.5,"y":32.3},{"x":72.6,"y":38.9},{"x":69.1,"y":38.5},{"x":70.5,"y":39.7},{"x":73.4,"y":42.1},{"x":82.4,"y":21.3},
{"x":72.1,"y":56.4},{"x":73.7,"y":56.0},{"x":70.5,"y":54.4},{"x":71.8,"y":51.2},{"x":69.4,"y":50.0},{"x":73.1,"y":48.9},{"x":70.7,"y":46.1},{"x":72.3,"y":44.5},{"x":69.1,"y":42.9},{"x":71.5,"y":36.5},{"x":73.4,"y":34.2},{"x":69.4,"y":30.2},{"x":66.2,"y":27.8},{"x":67.8,"y":26.2},
{"x":15.1,"y":17.1},{"x":15.6,"y":18.5},{"x":19.3,"y":18.3},{"x":23.2,"y":14.0},{"x":21.6,"y":7.4},{"x":24.9,"y":16.7},{"x":26.7,"y":16.7},{"x":29.1,"y":16.7},{"x":28.1,"y":14.0},{"x":26.7,"y":12.9},{"x":28.7,"y":12.9},{"x":33.5,"y":16.7},{"x":36.2,"y":8.3},{"x":39.6,"y":18.6},{"x":41.0,"y":14.0},{"x":46.7,"y":19.4},{"x":60.0,"y":19.4},{"x":60.3,"y":16.7},{"x":61.6,"y":16.7},{"x":63.2,"y":22.6},{"x":63.9,"y":25.0},{"x":67.3,"y":23.4},{"x":66.1,"y":32.2},{"x":64.7,"y":31.1},{"x":62.2,"y":29.8},{"x":56.7,"y":22.6},{"x":58.6,"y":23.4},{"x":59.3,"y":25.0},{"x":55.4,"y":25.0},{"x":53.7,"y":25.0},{"x":51.7,"y":22.6},{"x":52.4,"y":25.4},{"x":49.9,"y":22.2},{"x":47.4,"y":23.0},{"x":45.8,"y":24.2},{"x":43.1,"y":24.2},{"x":41.9,"y":23.4},{"x":40.8,"y":26.6},{"x":38.0,"y":20.8},{"x":36.8,"y":22.2},{"x":35.1,"y":27.8},{"x":31.0,"y":20.6},{"x":29.0,"y":22.6},{"x":25.8,"y":23.8},{"x":23.7,"y":18.6},{"x":22.9,"y":20.6},{"x":20.9,"y":21.4},{"x":18.5,"y":21.4},{"x":17.0,"y":22.6},{"x":15.4,"y":27.0},{"x":16.4,"y":27.0},{"x":17.6,"y":28.2},
{"x":8.0,"y":38.1},{"x":9.9,"y":49.1},{"x":10.6,"y":50.4},{"x":12.5,"y":55.8},{"x":12.5,"y":50.0},{"x":15.5,"y":60.5},{"x":15.8,"y":52.6},{"x":17.4,"y":60.4},{"x":17.7,"y":61.6},{"x":12.0,"y":42.3},{"x":13.5,"y":41.7},{"x":14.6,"y":39.7},{"x":13.2,"y":35.5},{"x":16.0,"y":32.2},{"x":16.5,"y":35.7},{"x":15.4,"y":44.9},{"x":16.2,"y":44.5}
]},"mark":{"type":"circle","color":"#FF0000","opacity":1,"size":145}},
{"data":{"values":[{"x":4.86,"y":35.0},{"x":129.4,"y":70.9}]},"mark":{"type":"line","color":"black","strokeWidth":4.5},"encoding":{}},
{"data":{"values":[{"x":0,"y":13.5},{"x":132.4,"y":113.0}]},"mark":{"type":"line","color":"#0000FF","strokeWidth":6.5,"strokeDash":[33,24]},"encoding":{}},
{"data":{"values":[{"x":0,"y":4.6},{"x":130.8,"y":126.4}]},"mark":{"type":"line","color":"#008000","strokeWidth":6.5,"strokeDash":[33,23,8,25]},"encoding":{}},
{"data":{"values":[{"x":121.75,"y":122.4,"y2":122.4},{"x":139.5,"y":144.5,"y2":136.5}]},"mark":{"type":"area","orient":"vertical","fill":"#CCFFCC","stroke":"black","strokeWidth":1.5},"encoding":{"y2":{"field":"y2"}}},
{"data":{"values":[{"x":127.4,"y":107.9,"y2":107.9},{"x":139.9,"y":112.4,"y2":101.9}]},"mark":{"type":"area","orient":"vertical","fill":"#CCFFFF","stroke":"black","strokeWidth":1.5},"encoding":{"y2":{"field":"y2"}}},
{"data":{"values":[{"y":68.2,"x":127.0,"x2":127.0},{"y":53.7,"x":150.1,"x2":161.4}]},"mark":{"type":"area","orient":"horizontal","fill":"#FFFF99","stroke":"black","strokeWidth":1.5},"encoding":{"x2":{"field":"x2"}}},
{"data":{"values":[{"x":80.2,"x2":109.7,"y":112.2,"y2":135.0}]},"mark":{"type":"rect","fill":"#CCFFCC"},"encoding":{"x2":{"field":"x2"},"y2":{"field":"y2"}}},
{"data":{"values":[{"x":99.1,"x2":131.1,"y":77.8,"y2":100.9}]},"mark":{"type":"rect","fill":"#CCEBFF"},"encoding":{"x2":{"field":"x2"},"y2":{"field":"y2"}}},
{"data":{"values":[{"x":98.3,"x2":130.0,"y":42.4,"y2":66.1}]},"mark":{"type":"rect","fill":"#FFFF66"},"encoding":{"x2":{"field":"x2"},"y2":{"field":"y2"}}},
{"data":{"values":[{"x":139.5,"x2":188.2,"y":131.2,"y2":162.8}]},"mark":{"type":"rect","fill":"#CCFFCC","stroke":"black","strokeWidth":1.5},"encoding":{"x2":{"field":"x2"},"y2":{"field":"y2"}}},
{"data":{"values":[{"x":139.9,"x2":188.9,"y":76.8,"y2":119.3}]},"mark":{"type":"rect","fill":"#CCFFFF","stroke":"black","strokeWidth":1.5},"encoding":{"x2":{"field":"x2"},"y2":{"field":"y2"}}},
{"data":{"values":[{"x":141.9,"x2":188.2,"y":17.2,"y2":53.7}]},"mark":{"type":"rect","fill":"#FFFF99","stroke":"black","strokeWidth":1.5},"encoding":{"x2":{"field":"x2"},"y2":{"field":"y2"}}},
{"data":{"values":[{"x":82.7,"y":125.8,"t":"RMA:"},{"x":82.7,"y":116.2,"t":"y=0.90x+5.7"},{"x":101.6,"y":91.7,"t":"Deming, δ=1:"},{"x":101.6,"y":81.9,"t":"y=0.71x +14"},{"x":100.8,"y":56.6,"t":"ordinary LSQ"},{"x":100.8,"y":47.2,"t":"y=0.29x+34"}]},"mark":{"type":"text","font":"Lato","fontSize":38,"align":"left","baseline":"alphabetic","color":"black"},"encoding":{"text":{"field":"t"}}},
{"data":{"values":[{"x":163.8,"y":155.9,"t":"RMA regression,"},{"x":163.8,"y":146.0,"t":"symmetric regarding"},{"x":163.8,"y":136.3,"t":"X and Y"},{"x":164.4,"y":112.4,"t":"Deming LSQ"},{"x":164.4,"y":102.5,"t":"regression, δ=1,"},{"x":164.4,"y":92.9,"t":"symmetric regarding"},{"x":164.4,"y":83.3,"t":"X and Y"},{"x":165.1,"y":46.6,"t":"ordinary linear LSQ"},{"x":165.1,"y":36.7,"t":"regression,"},{"x":165.1,"y":27.4,"t":"y=E(Y|X=x)"}]},"mark":{"type":"text","font":"Lato","fontSize":40,"align":"center","baseline":"middle","color":"black"},"encoding":{"text":{"field":"t"}}},
{"data":{"values":[{"x":130.5,"y":24.1,"t":"R² = 0.102"}]},"mark":{"type":"text","font":"Liberation Sans","fontSize":38,"align":"right","baseline":"alphabetic","color":"black"},"encoding":{"text":{"field":"t"}}}
]
}
